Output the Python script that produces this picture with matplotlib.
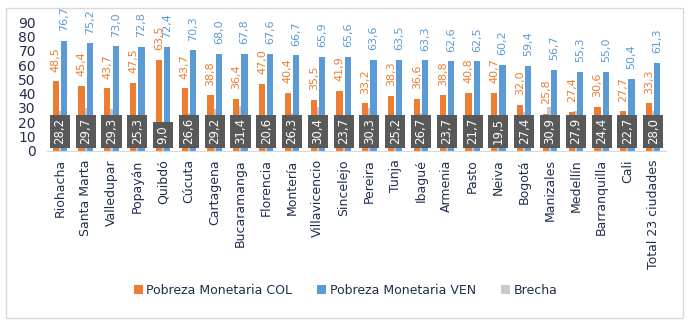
import numpy as np
import matplotlib
from matplotlib import pyplot as plt
import matplotlib.patches as patches

matplotlib.use("Agg")

ciudades = [
    "Riohacha", "Santa Marta", "Valledupar", "Popayán", "Quibdó", "Cúcuta",
    "Cartagena", "Bucaramanga", "Florencia", "Montería", "Villavicencio",
    "Sincelejo", "Pereira", "Tunja", "Ibagué", "Armenia", "Pasto", "Neiva",
    "Bogotá", "Manizales", "Medellín", "Barranquilla", "Cali",
    "Total 23 ciudades",
]
pobreza_col = [
    48.5, 45.4, 43.7, 47.5, 63.5, 43.7, 38.8, 36.4, 47.0, 40.4, 35.5, 41.9,
    33.2, 38.3, 36.6, 38.8, 40.8, 40.7, 32.0, 25.8, 27.4, 30.6, 27.7, 33.3,
]
pobreza_ven = [
    76.7, 75.2, 73.0, 72.8, 72.4, 70.3, 68.0, 67.8, 67.6, 66.7, 65.9, 65.6,
    63.6, 63.5, 63.3, 62.6, 62.5, 60.2, 59.4, 56.7, 55.3, 55.0, 50.4, 61.3,
]
brecha = [
    28.2, 29.7, 29.3, 25.3, 9.0, 26.6, 29.2, 31.4, 20.6, 26.3, 30.4, 23.7,
    30.3, 25.2, 26.7, 23.7, 21.7, 19.5, 27.4, 30.9, 27.9, 24.4, 22.7, 28.0,
]

ORANGE = "#ED7D31"
BLUE = "#5B9BD5"
GREY = "#C9C9C9"
TEXT = "#1f2d4f"

plt.rcParams["font.family"] = ["DejaVu Sans"]


def fmt(v):
    return f"{v:.1f}".replace(".", ",")


fig = plt.figure(figsize=(6.91, 3.24), dpi=100)
ax = fig.add_axes([0.068, 0.534, 0.896, 0.398])

# chart border
fig.add_artist(patches.Rectangle((6 / 691, 6 / 324), 677 / 691, 310 / 324,
                                 transform=fig.transFigure, fill=False,
                                 edgecolor="#D9D9D9", linewidth=1))

x = np.arange(len(ciudades))
w = 0.24
b_grey = ax.bar(x, brecha, w, color=GREY, zorder=1, label="Brecha")
b_col = ax.bar(x - 0.16, pobreza_col, w, color=ORANGE, zorder=2,
               label="Pobreza Monetaria COL")
b_ven = ax.bar(x + 0.16, pobreza_ven, w, color=BLUE, zorder=2,
               label="Pobreza Monetaria VEN")

# labels above bars
for xi, v in zip(x, pobreza_col):
    ax.annotate(fmt(v), (xi - 0.16, v), xytext=(0, 7), textcoords="offset points",
                rotation=90, ha="center", va="bottom", color=ORANGE,
                fontsize=8, zorder=4)
for xi, v in zip(x, pobreza_ven):
    ax.annotate(fmt(v), (xi + 0.16, v), xytext=(0, 7), textcoords="offset points",
                rotation=90, ha="center", va="bottom", color=BLUE,
                fontsize=8, zorder=4)
# brecha labels at the base
for xi, v in zip(x, brecha):
    ax.annotate(fmt(v), (xi, 0), xytext=(0, 4.7), textcoords="offset points",
                rotation=90, ha="center", va="bottom", color="white",
                fontsize=8.5, zorder=5,
                bbox=dict(boxstyle="square,pad=0.3", facecolor="#595959",
                          edgecolor="none"))

ax.set_xlim(-0.5, len(ciudades) - 0.5)
ax.set_ylim(0, 90)
ax.set_yticks(range(0, 91, 10))
ax.set_xticks(x)
ax.set_xticklabels(ciudades, rotation=90, fontsize=9, color=TEXT)
ax.tick_params(axis="y", labelsize=10, colors=TEXT, length=0, pad=8)
ax.tick_params(axis="x", length=0, pad=6)
for s in ["top", "right", "left"]:
    ax.spines[s].set_visible(False)
ax.spines["bottom"].set_color("#D9D9D9")

handles = [b_col, b_ven, b_grey]
fig.legend(handles, [h.get_label() for h in handles], loc="center",
           bbox_to_anchor=(0.5, 1 - 290 / 324), ncol=3, frameon=False,
           fontsize=9, labelcolor=TEXT, handlelength=0.7, handleheight=0.7,
           handletextpad=0.3, columnspacing=2.0)

fig.savefig("out.png", dpi=100)
